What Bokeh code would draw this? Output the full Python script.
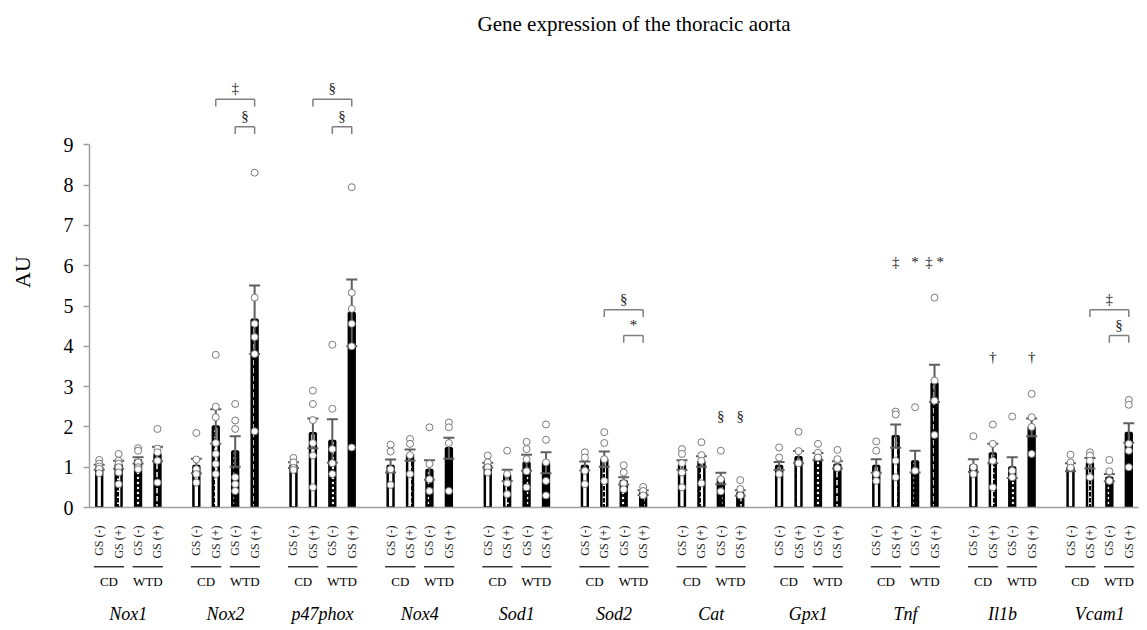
import math
from bokeh.plotting import figure
from bokeh.models import FactorRange, Range1d, FixedTicker, ColumnDataSource
from bokeh.embed import file_html
from bokeh.resources import INLINE
from bokeh.core.properties import value

TITLE = "Gene expression of the thoracic aorta"
GENES = ["Nox1", "Nox2", "p47phox", "Nox4", "Sod1", "Sod2", "Cat", "Gpx1", "Tnf", "Il1b", "Vcam1"]
DIETS = ["CD", "WTD"]
GS = ["GS (-)", "GS (+)"]
Y_TICKS = [0, 1, 2, 3, 4, 5, 6, 7, 8, 9]
Y_LABEL = "AU"

# group means (bar heights), one value per gene
MEAN_CD_GSN = [1.00, 1.03, 1.05, 1.03, 1.05, 1.03, 1.05, 1.03, 1.03, 1.04, 1.00]
MEAN_CD_GSP = [1.06, 2.01, 1.84, 1.30, 0.80, 1.20, 1.14, 1.25, 1.77, 1.34, 1.10]
MEAN_WTD_GSN = [1.17, 1.39, 1.65, 0.93, 1.11, 0.66, 0.72, 1.26, 1.14, 0.99, 0.74]
MEAN_WTD_GSP = [1.33, 4.66, 4.83, 1.47, 1.11, 0.37, 0.36, 1.06, 3.08, 1.99, 1.85]

# error (SD) per gene
SD_CD_GSN = [0.06, 0.18, 0.07, 0.16, 0.06, 0.11, 0.12, 0.10, 0.17, 0.16, 0.10]
SD_CD_GSP = [0.10, 0.43, 0.37, 0.14, 0.14, 0.19, 0.13, 0.15, 0.29, 0.24, 0.13]
SD_WTD_GSN = [0.08, 0.38, 0.54, 0.24, 0.20, 0.09, 0.14, 0.09, 0.27, 0.26, 0.09]
SD_WTD_GSP = [0.18, 0.85, 0.83, 0.26, 0.26, 0.06, 0.07, 0.09, 0.46, 0.22, 0.24]

# individual animals, one list per gene
PTS_CD_GSN = [
    [1.18, 1.09, 1.02, 0.96, 0.85],
    [1.85, 1.19, 0.95, 0.83, 0.62],
    [1.23, 1.12, 0.98, 0.93],
    [1.56, 1.39, 0.95, 0.56],
    [1.29, 1.12, 1.00, 0.87],
    [1.37, 1.24, 0.91, 0.58],
    [1.45, 1.33, 1.10, 0.87, 0.50],
    [1.49, 1.24, 0.83],
    [1.64, 1.41, 0.83, 0.66],
    [1.77, 1.00, 0.83],
    [1.31, 1.12, 0.99],
]
PTS_CD_GSP = [
    [1.33, 1.16, 1.09, 1.00, 0.87, 0.58],
    [3.79, 2.50, 2.24, 1.60, 1.33, 1.08, 0.83],
    [2.90, 2.57, 2.17, 1.60, 1.29, 0.50],
    [1.70, 1.58, 1.30, 0.83],
    [1.41, 0.83, 0.60, 0.33],
    [1.87, 1.60, 1.20, 0.66],
    [1.62, 1.30, 1.16, 0.60],
    [1.88, 1.40, 1.10],
    [2.38, 2.31, 1.16, 0.75],
    [2.06, 1.58, 1.16, 0.50],
    [1.37, 1.29, 1.16, 0.75],
]
PTS_WTD_GSN = [
    [1.47, 1.41, 1.12, 1.00, 0.95],
    [2.57, 2.16, 1.95, 0.75, 0.58, 0.41],
    [4.04, 2.45, 1.45, 1.10, 0.83],
    [1.99, 1.08, 0.70, 0.41],
    [1.63, 1.45, 1.20, 0.90, 0.50],
    [1.05, 0.87, 0.60, 0.45],
    [1.41, 0.70, 0.40],
    [1.58, 1.36, 1.24],
    [2.49, 0.91],
    [2.26, 0.91, 0.75],
    [1.18, 0.90, 0.66],
]
PTS_WTD_GSP = [
    [1.95, 1.46, 1.37, 1.16, 0.62],
    [8.31, 5.21, 4.56, 4.23, 3.81, 1.89],
    [7.95, 5.33, 4.93, 4.56, 4.00, 1.49],
    [2.11, 1.99, 1.60, 0.41],
    [2.06, 1.68, 1.12, 0.66, 0.30],
    [0.51, 0.41, 0.30],
    [0.68, 0.46, 0.30],
    [1.43, 1.20, 0.98],
    [5.21, 3.15, 2.65, 1.80],
    [2.82, 2.24, 2.00, 1.33],
    [2.67, 2.55, 1.58, 1.41, 1.00],
]

# significance brackets
BR_GENE = ["Nox2", "Nox2", "p47phox", "p47phox", "Sod2", "Sod2", "Vcam1", "Vcam1"]
BR_FROM = [("CD", "GS (+)"), ("WTD", "GS (-)")] * 4
BR_TO = [("WTD", "GS (+)"), ("WTD", "GS (+)")] * 4
BR_Y = [10.13, 9.45, 10.13, 9.45, 4.91, 4.27, 4.91, 4.27]
BR_SYMBOL = ["\u2021", "\u00a7", "\u00a7", "\u00a7", "\u00a7", "*", "\u2021", "\u00a7"]

# single-bar symbols
MK_GENE = ["Cat", "Cat", "Tnf", "Tnf", "Tnf", "Il1b", "Il1b"]
MK_BAR = [("WTD", "GS (-)"), ("WTD", "GS (+)"), ("CD", "GS (+)"), ("WTD", "GS (-)"),
          ("WTD", "GS (+)"), ("CD", "GS (+)"), ("WTD", "GS (+)")]
MK_Y = [2.26, 2.26, 6.10, 6.10, 6.10, 3.73, 3.73]
MK_SYMBOL = ["\u00a7", "\u00a7", "\u2021", "*", "\u2021 *", "\u2020", "\u2020"]

TREAT = [("CD", "GS (-)"), ("CD", "GS (+)"), ("WTD", "GS (-)"), ("WTD", "GS (+)")]
MEANS = [MEAN_CD_GSN, MEAN_CD_GSP, MEAN_WTD_GSN, MEAN_WTD_GSP]
SDS = [SD_CD_GSN, SD_CD_GSP, SD_WTD_GSN, SD_WTD_GSP]
PTS = [PTS_CD_GSN, PTS_CD_GSP, PTS_WTD_GSN, PTS_WTD_GSP]

BAR_STYLE = [
    dict(fill_color="white"),
    dict(fill_color="white", hatch_pattern="vertical_dash", hatch_color="black", hatch_scale=6, hatch_weight=2),
    dict(fill_color="black", hatch_pattern="dot", hatch_color="white", hatch_scale=5, hatch_weight=1.5),
    dict(fill_color="black", hatch_pattern="vertical_dash", hatch_color="white", hatch_scale=8, hatch_weight=1.5),
]

SERIF = "Liberation Serif"
AXIS_GRAY = "#a0a0a0"
ERR_GRAY = "#5f5f5f"
SYM_COLOR = "#222222"

factors = [(g, d, s) for g in GENES for d in DIETS for s in GS]
x_range = FactorRange(factors=factors, factor_padding=0, subgroup_padding=0,
                      group_padding=1, range_padding=0)

p = figure(width=1147, height=630, x_range=x_range, y_range=Range1d(0, 11.69),
           output_backend="svg", toolbar_location=None, title=TITLE,
           min_border_left=89, min_border_right=9, min_border_top=36, min_border_bottom=123)

p.title.text_font = SERIF
p.title.text_font_size = "21px"
p.title.text_font_style = "normal"
p.title.text_color = "black"
p.title.align = "left"
p.title.offset = 388
p.title.standoff = 2

p.outline_line_color = None
p.grid.grid_line_color = None
p.background_fill_color = "white"

# y axis
yax = p.yaxis[0]
yax.ticker = FixedTicker(ticks=Y_TICKS)
yax.bounds = (0, 9)
yax.axis_line_color = AXIS_GRAY
yax.axis_line_width = 1.5
yax.major_tick_line_color = AXIS_GRAY
yax.major_tick_line_width = 1.5
yax.major_tick_out = 6
yax.major_tick_in = 0
yax.minor_tick_line_color = None
yax.major_label_text_font = SERIF
yax.major_label_text_font_size = "20px"
yax.major_label_text_color = "black"
yax.major_label_standoff = 10
yax.axis_label = Y_LABEL
yax.axis_label_text_font = SERIF
yax.axis_label_text_font_size = "22px"
yax.axis_label_text_font_style = "normal"
yax.axis_label_text_color = "black"
yax.axis_label_standoff = 26

# x axis (three nested levels)
xax = p.xaxis[0]
xax.axis_line_color = AXIS_GRAY
xax.axis_line_width = 1.5
xax.major_tick_line_color = None
xax.minor_tick_line_color = None
xax.major_label_orientation = math.pi / 2
xax.major_label_text_font = SERIF
xax.major_label_text_font_size = "12px"
xax.major_label_text_color = "#222222"
xax.major_label_standoff = 12
xax.subgroup_text_font = SERIF
xax.subgroup_text_font_size = "13px"
xax.subgroup_text_font_style = "normal"
xax.subgroup_text_color = "black"
xax.group_text_font = SERIF
xax.group_text_font_size = "18px"
xax.group_text_font_style = "italic"
xax.group_text_color = "black"
xax.separator_line_color = None

# bars, error bars, points
for k, (d, s) in enumerate(TREAT):
    xs = [(g, d, s) for g in GENES]
    src = ColumnDataSource(dict(x=xs, top=MEANS[k]))
    p.vbar(x="x", top="top", width=0.3, source=src, line_color="black", line_width=2.5,
           **BAR_STYLE[k])

for k, (d, s) in enumerate(TREAT):
    xs = [(g, d, s) for g in GENES]
    lo = [m - e for m, e in zip(MEANS[k], SDS[k])]
    hi = [m + e for m, e in zip(MEANS[k], SDS[k])]
    src = ColumnDataSource(dict(x=xs, lo=lo, hi=hi))
    p.segment(x0="x", y0="lo", x1="x", y1="hi", source=src, line_color=ERR_GRAY, line_width=2)
    p.scatter(x="x", y="hi", source=src, marker="dash", size=11, line_color=ERR_GRAY, line_width=2)
    p.scatter(x="x", y="lo", source=src, marker="dash", size=11, line_color=ERR_GRAY, line_width=2)

for k, (d, s) in enumerate(TREAT):
    px, py = [], []
    for g, vals in zip(GENES, PTS[k]):
        for v in vals:
            px.append((g, d, s))
            py.append(v)
    p.scatter(x=px, y=py, marker="circle", size=7, fill_color="white",
              line_color="#7a7a7a", line_width=1)

# underlines of diet groups (below the axis)
UL_Y = -1.47
ul_x0 = [(g, d, -0.78) for g in GENES for d in DIETS]
ul_x1 = [(g, d, 0.78) for g in GENES for d in DIETS]
p.segment(x0=ul_x0, x1=ul_x1, y0=[UL_Y] * len(ul_x0), y1=[UL_Y] * len(ul_x0),
          line_color="#333333", line_width=1.5, level="overlay")

# brackets
LEG = 0.18
idx = {t: i for i, t in enumerate(TREAT)}
tx, ty = [], []
for g, f, t, y in zip(BR_GENE, BR_FROM, BR_TO, BR_Y):
    a = (g,) + f
    b = (g,) + t
    p.segment(x0=[a, a, b], x1=[b, a, b], y0=[y, y, y], y1=[y, y - LEG, y - LEG],
              line_color="#7f7f7f", line_width=1.5)
    dist = idx[t] - idx[f]
    tx.append((g,) + t + (-dist / 2,))
    ty.append(y + 0.27)
p.text(x=tx, y=ty, text=BR_SYMBOL, text_font=value(SERIF), text_font_size="15px",
       text_color=SYM_COLOR, text_align="center", text_baseline="middle")

mx = [(g,) + b for g, b in zip(MK_GENE, MK_BAR)]
p.text(x=mx, y=MK_Y, text=MK_SYMBOL, text_font=value(SERIF), text_font_size="15px",
       text_color=SYM_COLOR, text_align="center", text_baseline="middle")

open("out.html", "w").write(file_html(p, INLINE))
